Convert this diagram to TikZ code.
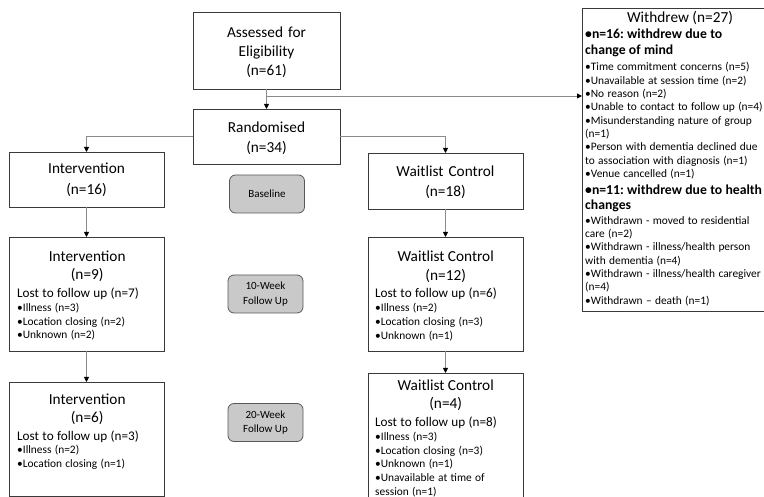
\documentclass[tikz,border=0pt]{standalone}
\usepackage{fontspec}
\setmainfont{Carlito}
\usetikzlibrary{arrows.meta}
\definecolor{lineg}{HTML}{8A8A8A}
\definecolor{boxline}{HTML}{3A3A3A}
\definecolor{labfill}{HTML}{C9C9C9}
\newcommand{\TL}[2][18.5]{{\centering\fontsize{15.3}{#1}\selectfont #2\par}}
\newcommand{\LT}[2][18]{{\fontsize{13.2}{#1}\selectfont #2\par}}
\newcommand{\BL}[2][13.6]{{\fontsize{11.4}{#1}\selectfont •#2\par}}
\newcommand{\BB}[2][16]{{\fontsize{13.7}{#1}\selectfont\bfseries #2\par}}
\frenchspacing
\begin{document}
\begin{tikzpicture}[x=1pt,y=-1pt,
  box/.style={draw=boxline,line width=0.9pt,fill=white,inner sep=0pt,outer sep=0pt,anchor=north west},
  lab/.style={draw=boxline!85,line width=0.8pt,fill=labfill,rounded corners=6pt,inner sep=0pt,outer sep=0pt,
    minimum width=75pt,minimum height=38pt,align=center,font=\fontsize{11}{14.5}\selectfont},
  ctext/.style={anchor=base,align=center,text width=146pt,inner sep=0pt,font=\fontsize{15.3}{19}\selectfont},
  ltext/.style={anchor=base west,align=left,text width=#1,inner sep=0pt},
  conn/.style={draw=lineg,line width=0.9pt,-{Triangle[length=5pt,width=5pt,color=black]}}]
\useasboundingbox (0,0) rectangle (764,497);
% boxes
\node[box,minimum width=147pt,minimum height=77pt] (ass) at (193,12) {};
\node[box,minimum width=147pt,minimum height=55pt] (rand) at (193,109) {};
\node[box,minimum width=155pt,minimum height=55pt] (int16) at (9,152) {};
\node[box,minimum width=155pt,minimum height=56pt] (wl18) at (368,153) {};
\node[box,minimum width=155pt,minimum height=114pt] (int9) at (9,237) {};
\node[box,minimum width=155pt,minimum height=114pt] (wl12) at (368,237) {};
\node[box,minimum width=155pt,minimum height=114pt] (int6) at (9,382) {};
\node[box,draw=none,minimum width=155pt,minimum height=126pt] (wl4) at (368,373) {};
\draw[draw=boxline,line width=0.9pt] (wl4.south west) -- (wl4.north west) -- (wl4.north east) -- (wl4.south east);
\node[box,draw=none,minimum width=184pt,minimum height=303pt] (wd) at (582,8) {};
\draw[draw=boxline,line width=0.9pt] (wd.north east) -- (wd.north west) -- (wd.south west) -- (wd.south east);
% stage labels
\node[lab] (base) at (267,194) {Baseline};
\node[lab] (w10) at (265.5,294) {10-Week\\Follow Up};
\node[lab] (w20) at (265.5,422.5) {20-Week\\Follow Up};
% texts of the centred boxes
\node[ctext] (assT) at (266.5,38) {Assessed for\\Eligibility\\(n=61)};
\node[ctext,font=\fontsize{15.3}{20}\selectfont] (randT) at (266.5,133) {Randomised\\(n=34)};
\node[ctext,font=\fontsize{15.3}{21}\selectfont] (int16T) at (86.5,174) {Intervention\\(n=16)};
\node[ctext,font=\fontsize{15.3}{20}\selectfont] (wl18T) at (445.5,177) {Waitlist Control\\(n=18)};
% list boxes
\node[ltext=140pt] (int9T) at (17,262) {\TL{Intervention}\TL[18]{(n=9)}\LT{Lost to follow up (n=7)}\BL[14]{Illness (n=3)}\BL{Location closing (n=2)}\BL[13.4]{Unknown (n=2)}};
\node[ltext=141pt] (wl12T) at (375,262) {\TL{Waitlist Control}\TL[18.5]{(n=12)}\LT[17.5]{Lost to follow up (n=6)}\BL[14]{Illness (n=2)}\BL{Location closing (n=3)}\BL[13.6]{Unknown (n=1)}};
\node[ltext=140pt] (int6T) at (17,404) {\TL{Intervention}\TL[18]{(n=6)}\LT{Lost to follow up (n=3)}\BL[14]{Illness (n=2)}\BL{Location closing (n=1)}};
\node[ltext=141pt] (wl4T) at (375,391) {\TL{Waitlist Control}\TL[18]{(n=4)}\LT{Lost to follow up (n=8)}\BL[13.8]{Illness (n=3)}\BL{Location closing (n=3)}\BL{Unknown (n=1)}\BL{Unavailable at time of}{\fontsize{11.4}{14}\selectfont session (n=1)\par}};
% withdrew box
\node[anchor=base,inner sep=0pt,font=\fontsize{15.3}{18}\selectfont] (wdT) at (680,23) {Withdrew (n=27)};
\node[ltext=186pt] (wdL) at (585,39) {\BB{•n=16: withdrew due to}\BB{change of mind}\BL[16]{Time commitment concerns (n=5)}\BL[13.3]{Unavailable at session time (n=2)}\BL[13.3]{No reason (n=2)}\BL[13.3]{Unable to contact to follow up (n=4)}\BL[13.3]{Misunderstanding nature of group}{\fontsize{11.4}{13.3}\selectfont (n=1)\par}\BL[13.3]{Person with dementia declined due}{\fontsize{11.4}{13.3}\selectfont to association with diagnosis (n=1)\par}\BL[13.3]{Venue cancelled (n=1)}\BB[17]{•n=11: withdrew due to health}\BB[15]{changes}\BL[15]{Withdrawn - moved to residential}{\fontsize{11.4}{13.3}\selectfont care (n=2)\par}\BL[13.3]{Withdrawn - illness/health person}{\fontsize{11.4}{13.3}\selectfont with dementia (n=4)\par}\BL[13.3]{Withdrawn - illness/health caregiver}{\fontsize{11.4}{13.3}\selectfont (n=4)\par}\BL[13.3]{Withdrawn – death (n=1)}};
% connectors
\coordinate (j1) at (266.5,96);
\draw[conn] (ass.south) -- (rand.north);
\draw[conn] (j1) -- (wd.west |- j1);
\draw[conn] (rand.west) -| (int16.north);
\draw[conn] (rand.east) -| (wl18.north);
\draw[conn] (int16.south) -- (int9.north);
\draw[conn] (int9.south) -- (int6.north);
\draw[conn] (wl18.south) -- (wl12.north);
\draw[conn] (wl12.south) -- (wl4.north);
\end{tikzpicture}
\end{document}
